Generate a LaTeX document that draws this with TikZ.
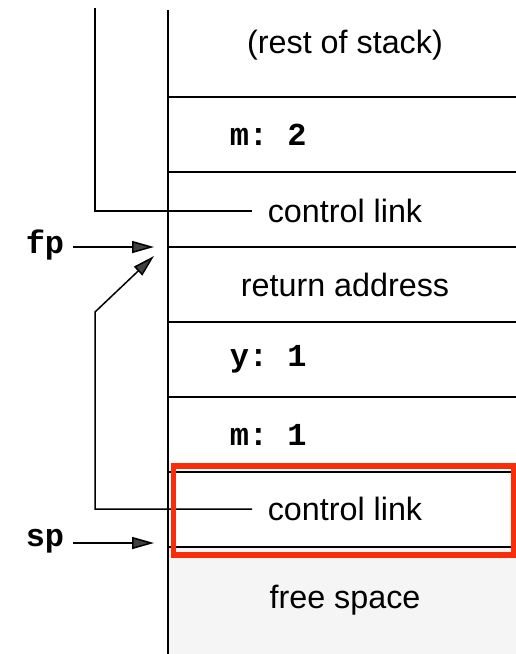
\documentclass[tikz,border=0pt]{standalone}
\usepackage{fontspec}
\setmainfont{Liberation Sans}
\setmonofont{Liberation Mono}
\usetikzlibrary{arrows.meta}
\definecolor{hilite}{RGB}{250,45,10}
\begin{document}
\begin{tikzpicture}[x=1pt,y=-1pt,line width=1.5pt,
  lbl/.style={font=\fontsize{32.3}{37}\selectfont,inner sep=0pt},
  code/.style={font=\fontsize{32}{37}\selectfont\ttfamily\bfseries,anchor=west,inner sep=0pt},
  ptr/.style={font=\fontsize{32}{37}\selectfont\ttfamily\bfseries,inner sep=0pt},
  arr/.style={-{Triangle[length=22pt,width=12pt,fill=black!75]}},
  thick rule/.style={line width=2.6pt},
  rule/.style={line width=1.6pt}]
\useasboundingbox (0,0) rectangle (516,654);
% free space shading
\fill[black!4] (168,547) rectangle (516,654);
% stack column
\draw[rule] (168,10) -- (168,654);
\draw[thick rule] (168,97) -- (516,97);
\draw[rule] (168,172) -- (516,172);
\draw[rule] (168,247) -- (516,247);
\draw[rule] (168,322) -- (516,322);
\draw[thick rule] (168,397) -- (516,397);
\draw[rule] (168,472) -- (516,472);
\draw[rule] (168,547) -- (516,547);
% cell texts
\node[lbl] (rest) at (345,45) {(rest of stack)};
\node[code] (m2) at (229,135) {m: 2};
\node[lbl] (cl1) at (345,211) {control link};
\node[lbl] (ret) at (345,285) {return address};
\node[code] (y1) at (229,359) {y: 1};
\node[code] (m1) at (229,435) {m: 1};
\node[lbl] (cl2) at (345,509) {control link};
\node[lbl] (free) at (345,600) {free space};
% pointers
\node[ptr] (fp) at (45,245) {fp};
\node[ptr] (sp) at (45,541) {sp};
\coordinate (fptip) at (154,247);
\coordinate (sptip) at (154,543);
\coordinate (linktip) at (154,256);
\coordinate (linkbend) at (95,312);
\coordinate (top) at (95,8);
\draw[arr] (73,247) -- (fptip);
\draw[arr] (73,543) -- (sptip);
% control links
\draw ([xshift=-15pt]cl1.west) -| (top);
\draw[arr] ([xshift=-15pt]cl2.west) -| (linkbend) -- (linktip);
% highlight
\draw[hilite,line width=5.5pt] (173.5,466) rectangle (513.5,555);
\end{tikzpicture}
\end{document}
